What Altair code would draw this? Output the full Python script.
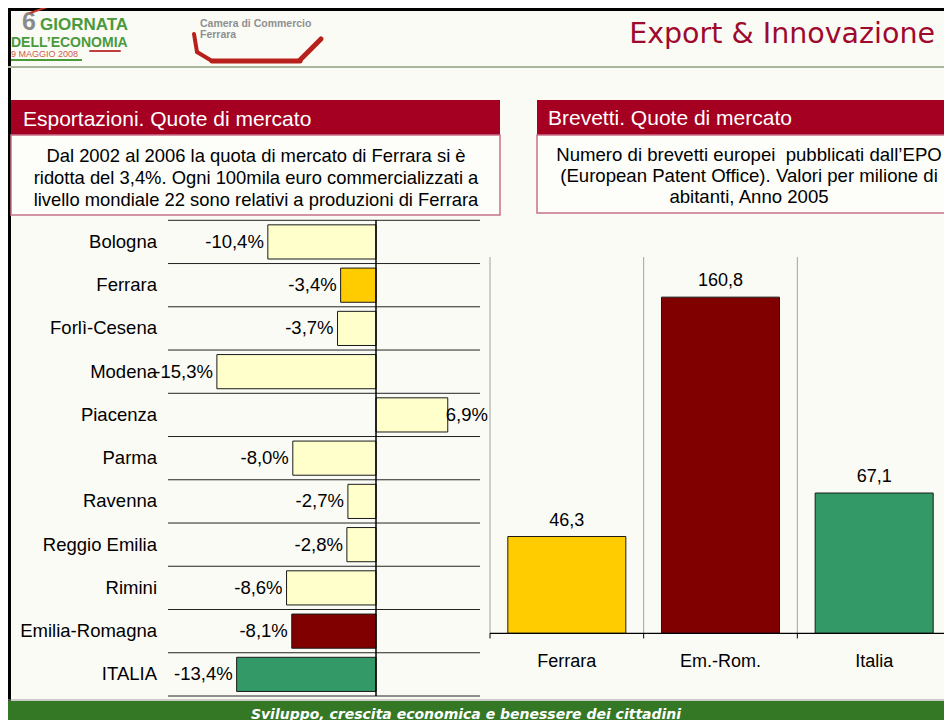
import altair as alt
import pandas as pd

# ---------------- data ----------------
province = ["Bologna", "Ferrara", "Forlì-Cesena", "Modena", "Piacenza", "Parma",
            "Ravenna", "Reggio Emilia", "Rimini", "Emilia-Romagna", "ITALIA"]
quota_var = [-10.4, -3.4, -3.7, -15.3, 6.9, -8.0, -2.7, -2.8, -8.6, -8.1, -13.4]

aree = ["Ferrara", "Em.-Rom.", "Italia"]
brevetti = [46.3, 160.8, 67.1]

desc_left = ["Dal 2002 al 2006 la quota di mercato di Ferrara si è",
             "ridotta del 3,4%. Ogni 100mila euro commercializzati a",
             "livello mondiale 22 sono relativi a produzioni di Ferrara"]
desc_right = ["Numero di brevetti europei\u00a0 pubblicati dall\u2019EPO",
              "(European Patent Office). Valori per milione di",
              "abitanti, Anno 2005"]

# ---------------- styles ----------------
left_colors = ["#ffffcc", "#ffcc00", "#ffffcc", "#ffffcc", "#ffffcc", "#ffffcc",
               "#ffffcc", "#ffffcc", "#ffffcc", "#800000", "#339966"]
right_colors = ["#ffcc00", "#800000", "#339966"]
RED = "#a50021"
BG = "#fbfbf6"
FONT = "Liberation Sans"
O = 8  # page margin: reference pixel -> chart pixel
W, H = 936, 712


def fmt(v, pct):
    s = f"{v:.1f}".replace(".", ",")
    return s + ("%" if pct else "")


dfL = pd.DataFrame({"prov": province, "quota": quota_var,
                    "lbl": [fmt(v, True) for v in quota_var]})
dfR = pd.DataFrame({"area": aree, "brev": brevetti,
                    "lbl": [fmt(v, False) for v in brevetti]})
one = pd.DataFrame({"t": [""]})


def txt(s, x, y, **kw):
    kw.setdefault("font", FONT)
    kw.setdefault("align", "left")
    kw.setdefault("baseline", "alphabetic")
    return alt.Chart(pd.DataFrame({"t": [s]})).mark_text(**kw).encode(
        x=alt.value(x - O), y=alt.value(y - O), text="t:N")


def box(x1, y1, x2, y2, **kw):
    return alt.Chart(one).mark_rect(**kw).encode(
        x=alt.value(x1 - O), x2=alt.value(x2 - O),
        y=alt.value(y1 - O), y2=alt.value(y2 - O))


def seg(x1, y1, x2, y2, **kw):
    return alt.Chart(one).mark_rule(**kw).encode(
        x=alt.value(x1 - O), x2=alt.value(x2 - O),
        y=alt.value(y1 - O), y2=alt.value(y2 - O))


# ---------------- scales ----------------
LY = alt.Scale(domain=province, range=[220.3 - O, 696 - O], paddingInner=0.21, paddingOuter=0.105)
LY0 = alt.Scale(domain=province, range=[220.3 - O, 696 - O], paddingInner=0, paddingOuter=0)
LX = alt.Scale(domain=[-20, 10], range=[376 - O - 208, 376 - O + 104])

RX = alt.Scale(domain=aree, range=[490 - O, 951 - O], paddingInner=0.232, paddingOuter=0.116)
RX0 = alt.Scale(domain=aree, range=[490 - O, 951 - O], paddingInner=0, paddingOuter=0)
RY = alt.Scale(domain=[0, 180], range=[633.3 - O, 257 - O])

layers = []

# frame & header
layers.append(box(0, 0, 960, 3 + O, color="#000000"))
layers.append(box(0, 0, 3 + O, 730, color="#000000"))
layers.append(seg(8, 67, 952, 67, color="#a9b59c", strokeWidth=2))

# logo
layers.append(txt("6", 22, 30, fontSize=25, fontWeight="bold", color="#8a8a8a"))
layers.append(seg(30, 13, 50, 6, color="#c0392b", strokeWidth=2))
layers.append(txt("GIORNATA", 40, 30, fontSize=17, fontWeight="bold", color="#4a9a3c"))
layers.append(txt("DELL\u2019ECONOMIA", 11, 46.5, fontSize=14, fontWeight="bold", color="#4a9a3c"))
layers.append(txt("9 MAGGIO 2008", 11, 56.5, fontSize=9, color="#d05a4a"))
layers.append(seg(90, 51, 120, 51, color="#c04040", strokeWidth=2, strokeCap="round"))
layers.append(seg(11, 60, 82, 60, color="#4a9a3c", strokeWidth=2))
layers.append(txt("Camera di Commercio", 200, 27, fontSize=10.5, fontWeight="bold", color="#8f8f8f"))
layers.append(txt("Ferrara", 200, 38, fontSize=10.5, fontWeight="bold", color="#8f8f8f"))
layers.append(seg(194, 34, 197, 52, color="#b8201c", strokeWidth=4, strokeCap="round"))
layers.append(seg(197, 52, 212, 61, color="#b8201c", strokeWidth=4, strokeCap="round"))
layers.append(seg(212, 61, 300, 61, color="#b8201c", strokeWidth=5, strokeCap="round"))
layers.append(seg(300, 60, 321, 39, color="#b8201c", strokeWidth=5, strokeCap="round"))

# title
layers.append(txt("Export & Innovazione", 935, 43, align="right", fontSize=28.5,
                  font="DejaVu Sans", color="#9e0a2e"))

# section headers
layers.append(box(11, 100, 500, 135, color=RED))
layers.append(box(11, 135, 500, 215, fill="#fdfdf9", stroke="#c8708a", strokeWidth=1.5))
layers.append(txt("Esportazioni. Quote di mercato", 23, 126, fontSize=21, color="#ffffff"))
for i, s in enumerate(desc_left):
    layers.append(txt(s, 256, 161.5 + 22 * i, align="center", fontSize=18.4, color="#000000"))

layers.append(box(537, 100, 960, 135, color=RED))
layers.append(box(537, 135, 960, 213, fill="#fdfdf9", stroke="#c8708a", strokeWidth=1.5))
layers.append(txt("Brevetti. Quote di mercato", 548, 125, fontSize=21, color="#ffffff"))
for i, s in enumerate(desc_right):
    layers.append(txt(s, 749, 160.7 + 21.3 * i, align="center", fontSize=18.6, color="#000000"))

# ---------------- left chart ----------------
grid_left = alt.Chart(dfL).mark_rule(color="#222222", strokeWidth=1).encode(
    y=alt.Y("prov:N", scale=LY0, bandPosition=0, axis=None),
    x=alt.X(datum=-20, type="quantitative", scale=LX, axis=None),
    x2=alt.datum(10))
grid_left_end = alt.Chart(dfL.iloc[-1:]).mark_rule(color="#222222", strokeWidth=1).encode(
    y=alt.Y("prov:N", scale=LY0, bandPosition=1, axis=None),
    x=alt.X(datum=-20, type="quantitative", scale=LX, axis=None),
    x2=alt.datum(10))
bars_left = alt.Chart(dfL).mark_bar(stroke="#1a1a1a", strokeWidth=1).encode(
    y=alt.Y("prov:N", scale=LY, axis=None),
    x=alt.X("quota:Q", scale=LX, axis=None),
    x2=alt.datum(0),
    color=alt.Color("prov:N", scale=alt.Scale(domain=province, range=left_colors), legend=None))
zero_left = alt.Chart(one).mark_rule(color="#000000", strokeWidth=1.5).encode(
    x=alt.X(datum=0, type="quantitative", scale=LX, axis=None),
    y=alt.value(220.3 - O), y2=alt.value(696 - O))
lab_neg = alt.Chart(dfL).transform_filter("datum.quota < 0").mark_text(
    align="right", baseline="middle", dx=-4, fontSize=18.5, font=FONT, color="#000000").encode(
    y=alt.Y("prov:N", scale=LY, axis=None),
    x=alt.X("quota:Q", scale=LX, axis=None),
    text="lbl:N")
lab_pos = alt.Chart(dfL).transform_filter("datum.quota >= 0").mark_text(
    align="left", baseline="middle", dx=-2, fontSize=18.5, font=FONT, color="#000000").encode(
    y=alt.Y("prov:N", scale=LY, axis=None),
    x=alt.X("quota:Q", scale=LX, axis=None),
    text="lbl:N")
cat_left = alt.Chart(dfL).mark_text(
    align="right", baseline="middle", fontSize=18.5, font=FONT, color="#000000").encode(
    y=alt.Y("prov:N", scale=LY, axis=None),
    x=alt.value(157 - O),
    text="prov:N")
layers += [grid_left, grid_left_end, bars_left, zero_left, lab_neg, lab_pos, cat_left]

# ---------------- right chart ----------------
grid_right = alt.Chart(dfR).mark_rule(color="#a0a0a0", strokeWidth=1).encode(
    x=alt.X("area:N", scale=RX0, bandPosition=0, axis=None),
    y=alt.Y(datum=180, type="quantitative", scale=RY, axis=None),
    y2=alt.datum(0))
grid_right_end = alt.Chart(dfR.iloc[-1:]).mark_rule(color="#a0a0a0", strokeWidth=1).encode(
    x=alt.X("area:N", scale=RX0, bandPosition=1, axis=None),
    y=alt.Y(datum=180, type="quantitative", scale=RY, axis=None),
    y2=alt.datum(0))
ticks_right = alt.Chart(dfR).mark_rule(color="#000000", strokeWidth=1).encode(
    x=alt.X("area:N", scale=RX0, bandPosition=0, axis=None),
    y=alt.value(633.3 - O), y2=alt.value(638.5 - O))
ticks_right_end = alt.Chart(dfR.iloc[-1:]).mark_rule(color="#000000", strokeWidth=1).encode(
    x=alt.X("area:N", scale=RX0, bandPosition=1, axis=None),
    y=alt.value(633.3 - O), y2=alt.value(638.5 - O))
bars_right = alt.Chart(dfR).mark_bar(stroke="#1a1a1a", strokeWidth=1).encode(
    x=alt.X("area:N", scale=RX, axis=None),
    y=alt.Y("brev:Q", scale=RY, axis=None),
    y2=alt.datum(0),
    color=alt.Color("area:N", scale=alt.Scale(domain=aree, range=right_colors), legend=None))
base_right = seg(490, 633.3, 951, 633.3, color="#000000", strokeWidth=1.2)
lab_right = alt.Chart(dfR).mark_text(
    align="center", baseline="alphabetic", dy=-11, fontSize=18, font=FONT, color="#000000").encode(
    x=alt.X("area:N", scale=RX, axis=None),
    y=alt.Y("brev:Q", scale=RY, axis=None),
    text="lbl:N")
cat_right = alt.Chart(dfR).mark_text(
    align="center", baseline="middle", fontSize=18, font=FONT, color="#000000").encode(
    x=alt.X("area:N", scale=RX, axis=None),
    y=alt.value(662 - O),
    text="area:N")
layers += [grid_right, grid_right_end, bars_right, base_right, ticks_right,
           ticks_right_end, lab_right, cat_right]

# ---------------- footer ----------------
layers.append(seg(8, 700, 952, 700, color="#9a9a9a", strokeWidth=1))
layers.append(box(8, 701, 960, 730, color="#347826"))
layers.append(txt("Sviluppo, crescita economica e benessere dei cittadini", 466, 718.5,
                  align="center", fontSize=14, font="DejaVu Sans", fontStyle="italic",
                  fontWeight="bold", color="#ffffff"))

chart = alt.layer(*layers).resolve_scale(
    x="independent", y="independent", color="independent"
).properties(
    width=W, height=H, autosize="none", padding=0, background=BG
).configure_view(strokeWidth=0)

chart.save("out.html", embed_options={"renderer": "svg", "actions": False})
